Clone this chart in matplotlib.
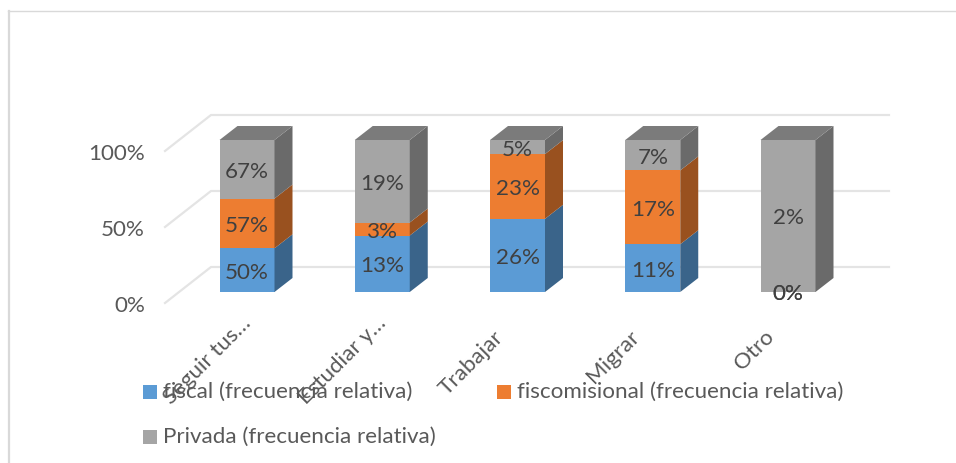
import matplotlib
matplotlib.use('Agg')
import matplotlib.pyplot as plt
from matplotlib.patches import Polygon, Rectangle

categories = ['Seguir tus…', 'Estudiar y…', 'Trabajar', 'Migrar', 'Otro']
fiscal = [50, 13, 26, 11, 0]
fiscomisional = [57, 3, 23, 17, 0]
privada = [67, 19, 5, 7, 2]
series_names = ['fiscal (frecuencia relativa)', 'fiscomisional (frecuencia relativa)', 'Privada (frecuencia relativa)']
yticks = [0, 50, 100]

front = ['#5B9BD5', '#ED7D31', '#A5A5A5']
side = ['#3A648A', '#99511F', '#6A6A6A']
top = '#7B7B7B'
W, H = 956, 463
PX_X = 135.25   # px per category
PX_Y = 1.52     # px per percent
bar_w = 55 / PX_X
dx_bar, dy_bar = 18 / PX_X, 14 / PX_Y
txt = '#595959'
lab = '#404040'
fs = 16.1

plt.rcParams['font.family'] = ['Lato', 'DejaVu Sans']
fig = plt.figure(figsize=(W / 100, H / 100), dpi=100)
ax = fig.add_axes([0, 0, 1, 1])
ax.set_xlim(-247 / PX_X, (W - 247) / PX_X)
ax.set_ylim((292 - H) / PX_Y, 292 / PX_Y)
ax.axis('off')


def px(xp, yp):
    # pixel position in the picture to data coords
    return (xp - 247) / PX_X, (292 - yp) / PX_Y


# outer frame, only top and left are in the picture
a, b = px(8, 11)
c, d = px(956, 11)
ax.plot([a, c], [b, d], color='#D9D9D9', lw=1)
a, b = px(9, 11)
c, d = px(9, 463)
ax.plot([a, c], [b, d], color='#D9D9D9', lw=1.6)

# back wall grid and floor diagonals
left_f = px(165, 0)[0]
left_b = px(211, 0)[0]
right_b = px(889, 0)[0]
for t in yticks:
    yf = t - 11 / PX_Y
    yb = t + 25 / PX_Y
    ax.plot([left_f, left_b, right_b], [yf, yb, yb], color='#E4E4E4', lw=1.6, zorder=1)
    ax.text(px(145, 0)[0], yf - 3 / PX_Y, f'{t}%', ha='right', va='center', fontsize=fs, color=txt)

# bars
for i, cat in enumerate(categories):
    vals = [fiscal[i], fiscomisional[i], privada[i]]
    total = sum(vals)
    x0, x1 = i - bar_w / 2, i + bar_w / 2
    bottom = 0
    for j, v in enumerate(vals):
        h = v / total * 100
        ax.add_patch(Rectangle((x0, bottom), bar_w, h, fc=front[j], ec='none', zorder=3))
        ax.add_patch(Polygon([(x1, bottom), (x1 + dx_bar, bottom + dy_bar),
                              (x1 + dx_bar, bottom + h + dy_bar), (x1, bottom + h)],
                             fc=side[j], ec='none', zorder=3))
        ax.text(i, bottom + h / 2 - 2.5 / PX_Y, f'{v}%', ha='center', va='center', fontsize=fs, color=lab, zorder=5)
        bottom += h
    ax.add_patch(Polygon([(x0, 100), (x1, 100), (x1 + dx_bar, 100 + dy_bar), (x0 + dx_bar, 100 + dy_bar)],
                         fc=top, ec='none', zorder=3))
    # category label, rotated; the cut-off ones sit further up and right
    sx, sy = (18, 14) if cat.endswith('…') else (0, 0)
    ax.text(i + (sx - 24) / PX_X, (sy - 35) / PX_Y, cat, rotation=45, rotation_mode='anchor', ha='right', va='top',
            fontsize=fs, color=txt, zorder=6)

# legend
leg_pos = [(150, 392), (504, 392), (150, 437)]
for j, name in enumerate(series_names):
    lx, ly = px(*leg_pos[j])
    ax.add_patch(Rectangle((lx - 7 / PX_X, ly - 7 / PX_Y), 14 / PX_X, 14 / PX_Y, fc=front[j], ec='none', zorder=4))
    ax.text(lx + 12.5 / PX_X, ly, name, ha='left', va='center', fontsize=fs, color=txt, zorder=7)

fig.savefig('out.png', dpi=100)
